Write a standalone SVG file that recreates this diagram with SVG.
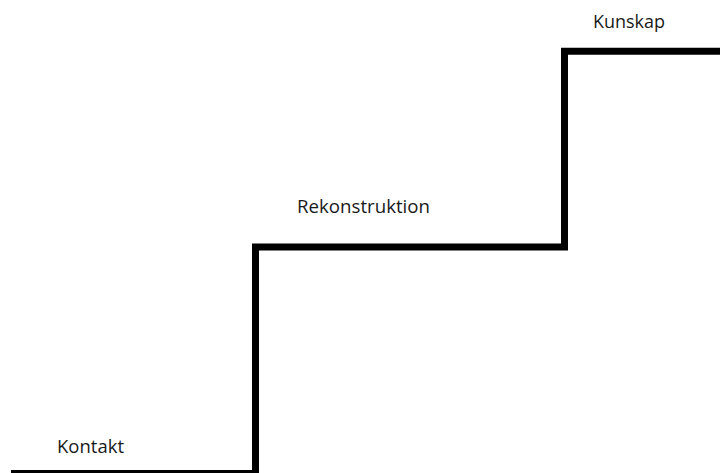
<svg xmlns="http://www.w3.org/2000/svg" width="720" height="473" viewBox="0 0 720 473">
<style>
.lbl{font-family:"Open Sans","Noto Sans",sans-serif;font-size:18px;fill:#1a1a1a}
.step{fill:none;stroke:#000;stroke-width:7;stroke-linejoin:miter}
</style>
<rect width="720" height="473" fill="#fff"/>
<g id="connectors">
<path class="step" d="M11 473.5 H255.5 V247 H564.5 V51.3 H724"/>
</g>
<g id="kontakt"><text class="lbl" x="57" y="453" textLength="67" lengthAdjust="spacingAndGlyphs">Kontakt</text></g>
<g id="rekonstruktion"><text class="lbl" x="297" y="213" textLength="133" lengthAdjust="spacingAndGlyphs">Rekonstruktion</text></g>
<g id="kunskap"><text class="lbl" x="593" y="28" textLength="72" lengthAdjust="spacingAndGlyphs">Kunskap</text></g>
</svg>
